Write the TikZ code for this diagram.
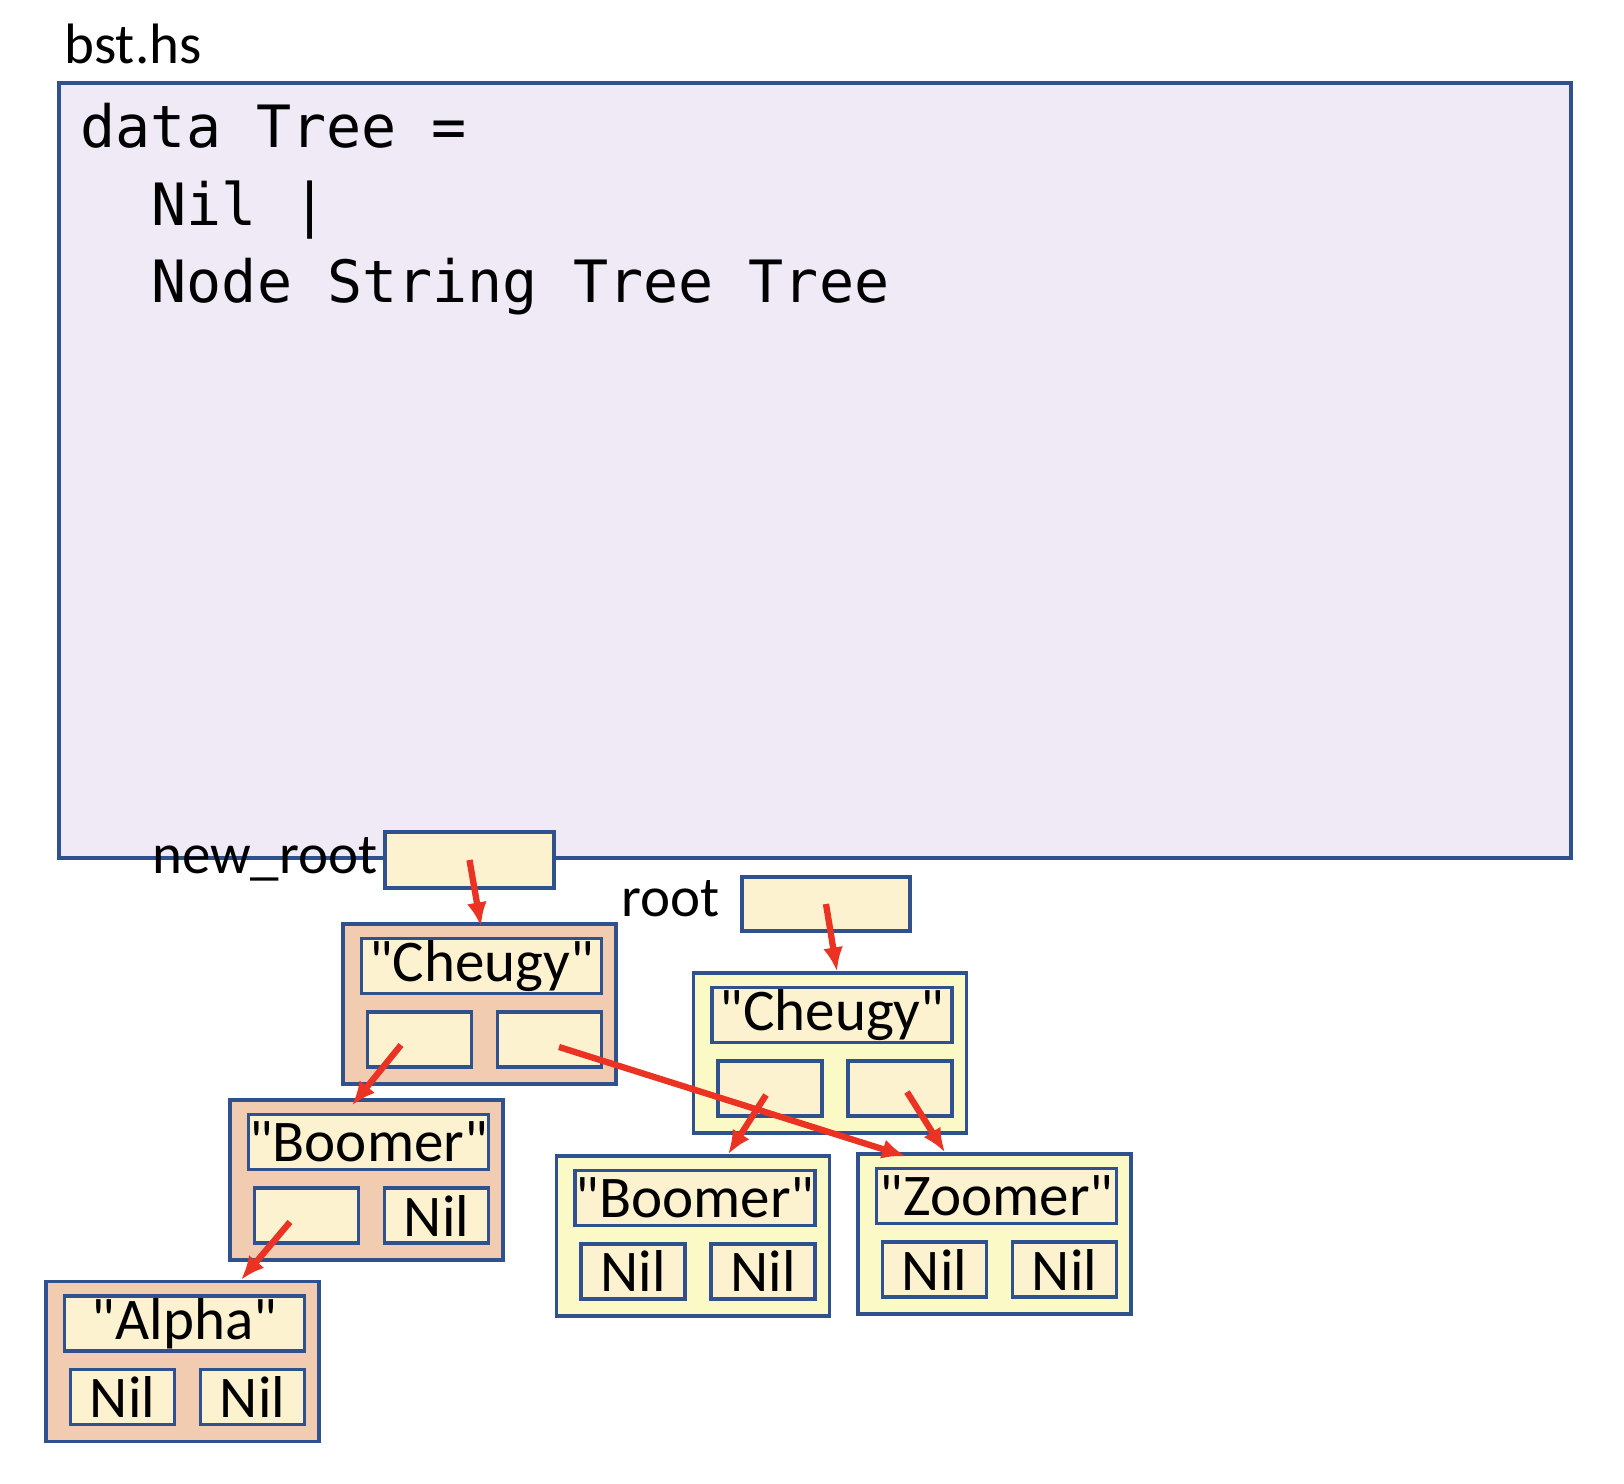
\documentclass[tikz,border=0pt]{standalone}
\usepackage{fontspec}
\setmainfont{Carlito}[Ligatures=TeXOff]
\newfontfamily\codefont{DejaVu Sans Mono}
\usetikzlibrary{arrows.meta}
\definecolor{boxblue}{RGB}{47,82,143}
\definecolor{codebg}{RGB}{240,234,246}
\definecolor{cellbg}{RGB}{252,242,208}
\definecolor{newbg}{RGB}{241,204,177}
\definecolor{oldbg}{RGB}{251,250,198}
\definecolor{ptrred}{RGB}{234,51,35}
\tikzset{
  cell/.style={draw=boxblue, line width=0.9pt, fill=cellbg, inner sep=0pt,
    minimum width=1.04cm, minimum height=0.55cm,
    font=\fontsize{16.8}{19}\selectfont},
  strcell/.style={cell, minimum width=2.40cm},
  newnode/.style={draw=boxblue, line width=0.9pt, fill=newbg, inner sep=0pt,
    minimum width=2.73cm, minimum height=1.60cm},
  oldnode/.style={newnode, fill=oldbg},
  codeline/.style={anchor=base west, inner sep=0pt,
    font=\codefont\fontsize{16.6}{20}\selectfont},
  lbl/.style={inner sep=0pt, font=\fontsize{16.2}{19}\selectfont},
  ptr/.style={->, draw=ptrred, line width=1.8pt},
}
\begin{document}
\begin{tikzpicture}[>={Latex[length=0.24cm,width=0.2cm]}]
                \useasboundingbox (0,0) rectangle (16.24,-14.84);
                % source file
                \node [lbl, anchor=base west] (fname) at (0.64,-0.64) {bst.hs};
                \node [draw=boxblue, line width=0.9pt, fill=codebg,
                  minimum width=15.12cm, minimum height=7.75cm] (code) at (8.15,-4.705) {};
                \node [codeline] (l1) at (0.80,-1.48) {data Tree =};
                \node [codeline] (l2) at (1.51,-2.26) {Nil |};
                \node [codeline] (l3) at (1.51,-3.03) {Node String Tree Tree};
                % variables
                \node [lbl, anchor=base east] (nrlabel) at (3.78,-8.73) {new\_root};
                \node [cell, minimum width=1.69cm, minimum height=0.56cm] (nrp) at (4.695,-8.60) {};
                \node [lbl, anchor=base west] (rlabel) at (6.21,-9.17) {root};
                \node [cell, minimum width=1.68cm, minimum height=0.54cm] (rp) at (8.26,-9.04) {};
                % new tree
                \node [newnode] (lc) at (4.795,-10.04) {};
                \node [strcell] (lcs) at (4.815,-9.66) {"Cheugy"};
                \node [cell] (lcl) at (4.195,-10.395) {};
                \node [cell] (lcr) at (5.495,-10.395) {};
                \node [newnode] (lb) at (3.665,-11.80) {};
                \node [strcell] (lbs) at (3.685,-11.42) {"Boomer"};
                \node [cell] (lbl) at (3.065,-12.155) {};
                \node [cell] (lbr) at (4.365,-12.155) {Nil};
                \node [newnode] (la) at (1.825,-13.615) {};
                \node [strcell] (las) at (1.845,-13.235) {"Alpha"};
                \node [cell] (lal) at (1.225,-13.97) {Nil};
                \node [cell] (lar) at (2.525,-13.97) {Nil};
                % old tree
                \node [oldnode] (rc) at (8.30,-10.53) {};
                \node [strcell] (rcs) at (8.32,-10.15) {"Cheugy"};
                \node [cell] (rcl) at (7.70,-10.885) {};
                \node [cell] (rcr) at (9.00,-10.885) {};
                \node [oldnode] (rb) at (6.93,-12.36) {};
                \node [strcell] (rbs) at (6.95,-11.98) {"Boomer"};
                \node [cell] (rbl) at (6.33,-12.715) {Nil};
                \node [cell] (rbr) at (7.63,-12.715) {Nil};
                \node [oldnode] (rz) at (9.945,-12.34) {};
                \node [strcell] (rzs) at (9.965,-11.96) {"Zoomer"};
                \node [cell] (rzl) at (9.345,-12.695) {Nil};
                \node [cell] (rzr) at (10.645,-12.695) {Nil};
                % pointers
                \draw [ptr] (nrp.center) -- ([shift={(0.015,-0.04)}]lc.north);
                \draw [ptr] (rp.center) -- ([shift={(0.07,0)}]rc.north);
                \draw [ptr] ([shift={(-0.185,-0.055)}]lcl.center) -- ([shift={(-0.145,-0.07)}]lb.north);
                \draw [ptr] ([shift={(0.095,-0.075)}]lcr.center) -- ([shift={(-0.885,-0.04)}]rz.north);
                \draw [ptr] ([shift={(-0.165,-0.065)}]lbl.center) -- ([shift={(0.585,0)}]la.north);
                \draw [ptr] ([shift={(-0.04,-0.065)}]rcl.center) -- ([shift={(0.35,0)}]rb.north);
                \draw [ptr] ([shift={(0.07,-0.035)}]rcr.center) -- ([shift={(-0.495,0)}]rz.north);
            \end{tikzpicture}
\end{document}
